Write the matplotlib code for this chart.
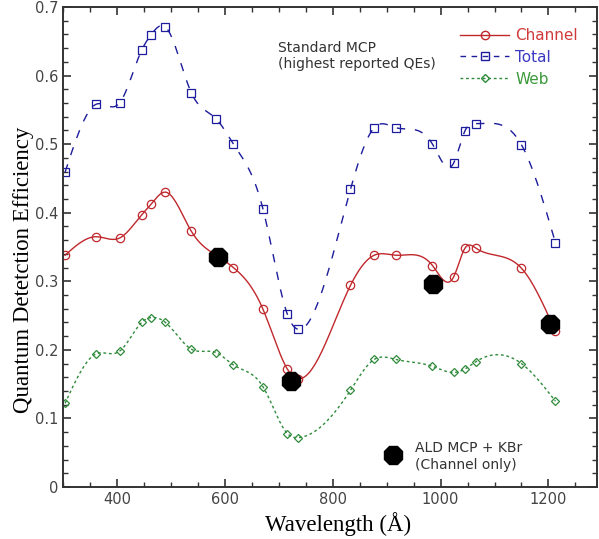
import numpy as np
import matplotlib
matplotlib.use("Agg")
import matplotlib.pyplot as plt
from matplotlib.ticker import MultipleLocator

# wavelengths (Angstrom) of the standard MCP measurements
wl = [304, 361, 405, 446, 463, 490, 538, 584, 616, 671, 716, 736,
      833, 877, 917, 985, 1024, 1045, 1066, 1150, 1213]

channel = [0.338, 0.365, 0.363, 0.397, 0.412, 0.430, 0.373, 0.338, 0.320, 0.259, 0.172, 0.158,
           0.294, 0.338, 0.338, 0.323, 0.306, 0.348, 0.348, 0.319, 0.227]
total = [0.459, 0.558, 0.560, 0.637, 0.659, 0.671, 0.575, 0.537, 0.500, 0.405, 0.252, 0.230,
         0.434, 0.524, 0.524, 0.500, 0.472, 0.519, 0.530, 0.499, 0.356]
web = [0.122, 0.194, 0.198, 0.240, 0.247, 0.240, 0.201, 0.196, 0.178, 0.146, 0.078, 0.072,
       0.141, 0.186, 0.186, 0.176, 0.167, 0.172, 0.183, 0.180, 0.125]

# ALD MCP + KBr, channel only
ald_wl = [587, 722, 986, 1203]
ald_qe = [0.335, 0.154, 0.296, 0.237]


def smooth(x, y, n=600):
    # natural cubic spline through the points
    x = np.asarray(x, float)
    y = np.asarray(y, float)
    h = np.diff(x)
    m = len(x)
    A = np.zeros((m, m))
    b = np.zeros(m)
    A[0, 0] = A[-1, -1] = 1
    for i in range(1, m - 1):
        A[i, i - 1] = h[i - 1]
        A[i, i] = 2 * (h[i - 1] + h[i])
        A[i, i + 1] = h[i]
        b[i] = 6 * ((y[i + 1] - y[i]) / h[i] - (y[i] - y[i - 1]) / h[i - 1])
    M = np.linalg.solve(A, b)
    xs = np.linspace(x[0], x[-1], n)
    k = np.clip(np.searchsorted(x, xs) - 1, 0, m - 2)
    t0 = x[k + 1] - xs
    t1 = xs - x[k]
    hk = h[k]
    ys = (M[k] * t0**3 + M[k + 1] * t1**3) / (6 * hk) \
        + (y[k] / hk - M[k] * hk / 6) * t0 + (y[k + 1] / hk - M[k + 1] * hk / 6) * t1
    return xs, ys


red = "#c0282c"
blue = "#1c1c9c"
green = "#2e8b3a"

fig = plt.figure(figsize=(5.99, 5.39), dpi=100)
ax = fig.add_axes([0.105, 0.0965, 0.8917, 0.8905])

xs, ys = smooth(wl, channel)
ax.plot(xs, ys, color=red, lw=1.0)
ax.plot(wl, channel, 'o', mfc='none', mec=red, ms=6, mew=0.9)

xs, ys = smooth(wl, total)
ax.plot(xs, ys, color=blue, lw=1.0, dashes=(6, 7))
ax.plot(wl, total, 's', mfc='none', mec=blue, ms=6, mew=0.9)

xs, ys = smooth(wl, web)
ax.plot(xs, ys, color=green, lw=1.0, dashes=(2, 2))
ax.plot(wl, web, 'D', mfc='none', mec=green, ms=4.5, mew=0.9)

ax.plot(ald_wl, ald_qe, '8', color='black', ms=14, zorder=5)

# legend drawn by hand-built handles
h1, = ax.plot([], [], color=red, lw=1.0, marker='o', mfc='none', mec=red, ms=6)
h2, = ax.plot([], [], color=blue, lw=1.0, dashes=(4, 4), marker='s', mfc='none', mec=blue, ms=6)
h3, = ax.plot([], [], color=green, lw=1.0, dashes=(2, 2), marker='D', mfc='none', mec=green, ms=4.5)
leg = ax.legend([h1, h2, h3], ["Channel", "Total", "Web"], loc='upper right',
                bbox_to_anchor=(0.99, 0.985), frameon=False, numpoints=1,
                handlelength=3.2, handletextpad=0.4, labelspacing=0.45, fontsize=11)
for txt, c in zip(leg.get_texts(), ["#d03a3a", "#3a3ac0", "#3a9a3a"]):
    txt.set_color(c)

ax.text(0.403, 0.93, "Standard MCP\n(highest reported QEs)", transform=ax.transAxes,
        fontsize=10, color="#333333", va='top', linespacing=1.25)

ax.plot([0.618], [0.0675], '8', color='black', ms=14, transform=ax.transAxes, clip_on=False)
ax.text(0.66, 0.095, "ALD MCP + KBr\n(Channel only)", transform=ax.transAxes,
        fontsize=10, color="#333333", va='top', linespacing=1.25)

ax.set_xlim(300, 1290)
ax.set_ylim(0, 0.7)
ax.xaxis.set_major_locator(MultipleLocator(200))
ax.xaxis.set_minor_locator(MultipleLocator(50))
ax.yaxis.set_major_locator(MultipleLocator(0.1))
ax.yaxis.set_minor_locator(MultipleLocator(0.02))
ax.set_xticks([400, 600, 800, 1000, 1200])
ax.set_yticks([0, 0.1, 0.2, 0.3, 0.4, 0.5, 0.6, 0.7])
ax.set_yticklabels(["0", "0.1", "0.2", "0.3", "0.4", "0.5", "0.6", "0.7"])

ax.tick_params(which='both', direction='in', top=True, right=True, colors="#333333",
               labelcolor="#444444", labelsize=10.5)
ax.tick_params(which='major', length=6, width=1.2)
ax.tick_params(which='minor', length=3.5, width=1.0)
for s in ax.spines.values():
    s.set_color("#333333")
    s.set_linewidth(1.4)

ax.set_xlabel("Wavelength (Å)", family="Liberation Serif", fontsize=16.5)
ax.set_ylabel("Quantum Detetction Efficiency", family="Liberation Serif", fontsize=16.5)
ax.xaxis.set_label_coords(0.515, -0.052)
ax.yaxis.set_label_coords(-0.054, 0.452)

fig.savefig("out.png", dpi=100)
